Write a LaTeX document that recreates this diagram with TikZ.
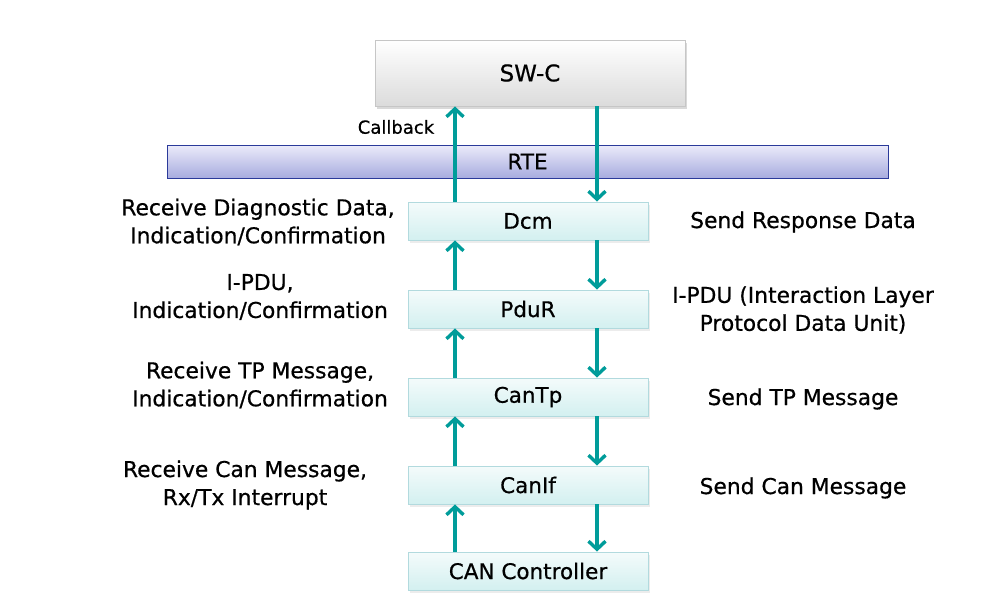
\documentclass[tikz,border=0pt]{standalone}
\usepackage{fontspec}
\setmainfont[FakeBold=0.6]{DejaVu Sans}
\usetikzlibrary{arrows.meta}
\definecolor{flowteal}{HTML}{009C9A}
\definecolor{boxedge}{HTML}{B2DADE}
\definecolor{boxtop}{HTML}{F4FBFB}
\definecolor{boxbottom}{HTML}{D3F0F0}
\definecolor{rteedge}{HTML}{2B3A9A}
\definecolor{rtetop}{HTML}{EBEBFA}
\definecolor{rtebottom}{HTML}{A8ACDF}
\tikzset{>={Straight Barb[length=8pt,width=17pt,line width=3.4pt]}}
\tikzset{
  layerbox/.style={draw=boxedge,line width=.9pt,top color=boxtop,bottom color=boxbottom,
    minimum width=240pt,minimum height=38pt,inner sep=0pt,font=\fontsize{21.5}{28}\selectfont},
  swcbox/.style={draw=gray!45,line width=.9pt,top color=white,bottom color=gray!28,
    minimum width=310pt,minimum height=66pt,inner sep=0pt,font=\fontsize{23}{28}\selectfont},
  rtebar/.style={draw=rteedge,line width=.9pt,top color=rtetop,bottom color=rtebottom,
    minimum width=721pt,minimum height=33pt,inner sep=0pt,font=\fontsize{21.5}{28}\selectfont},
  flow/.style={->,flowteal,line width=3.4pt},
  note/.style={align=center,inner sep=0pt,font=\fontsize{21.8}{28}\selectfont}
}
% shadow: centre, half width, half height, grey level
\newcommand*{\boxshadow}[4]
  {\fill[gray!#4,shift={(#1)}] (-#2+2,-#3+3) rectangle (#2+2,#3+3)}

\begin{document}
\begin{tikzpicture}[x=1pt,y=-1pt]
\useasboundingbox[fill=white] (0,0) rectangle (1001,610);
\coordinate (up) at (455,0);
\coordinate (dn) at (597,0);

% shadows
\boxshadow{530,73}{155}{33}{30};
\foreach \y in {221,309,397,485,571}
  \boxshadow{528,\y}{120}{19}{15};

% layers
\node[swcbox] (swc) at (530,73) {SW-C};
\node[rtebar] (rte) at (527.5,161.5) {RTE};
\node[layerbox] (dcm) at (528,221) {Dcm};
\node[layerbox] (pdur) at (528,309) {PduR};
\node[layerbox] (cantp) at (528,397) {CanTp};
\node[layerbox] (canif) at (528,485) {CanIf};
\node[layerbox] (canctrl) at (528,571) {CAN Controller};

% upward path
\draw[flow] (dcm.north -| up) -- (swc.south -| up);
\draw[flow] (pdur.north -| up) -- (dcm.south -| up);
\draw[flow] (cantp.north -| up) -- (pdur.south -| up);
\draw[flow] (canif.north -| up) -- (cantp.south -| up);
\draw[flow] (canctrl.north -| up) -- (canif.south -| up);

% downward path
\draw[flow] (swc.south -| dn) -- (dcm.north -| dn);
\draw[flow] (dcm.south -| dn) -- (pdur.north -| dn);
\draw[flow] (pdur.south -| dn) -- (cantp.north -| dn);
\draw[flow] (cantp.south -| dn) -- (canif.north -| dn);
\draw[flow] (canif.south -| dn) -- (canctrl.north -| dn);

% labels
\node[inner sep=0pt,font=\fontsize{18}{22}\selectfont] (cb) at (396,127) {Callback};
\node[note] (rxdcm) at (258,222) {Receive Diagnostic Data,\\Indication/Confirmation};
\node[note] (rxpdur) at (260,297) {I-PDU,\\Indication/Confirmation};
\node[note] (rxtp) at (260,385) {Receive TP Message,\\Indication/Confirmation};
\node[note] (rxcan) at (245,485) {Receive Can Message,\\Rx/Tx Interrupt};
\node[note] (txdcm) at (803,222) {Send Response Data};
\node[note] (txpdur) at (803,310) {I-PDU (Interaction Layer\\Protocol Data Unit)};
\node[note] (txtp) at (803,399) {Send TP Message};
\node[note] (txcan) at (803,488) {Send Can Message};
\end{tikzpicture}
\end{document}
